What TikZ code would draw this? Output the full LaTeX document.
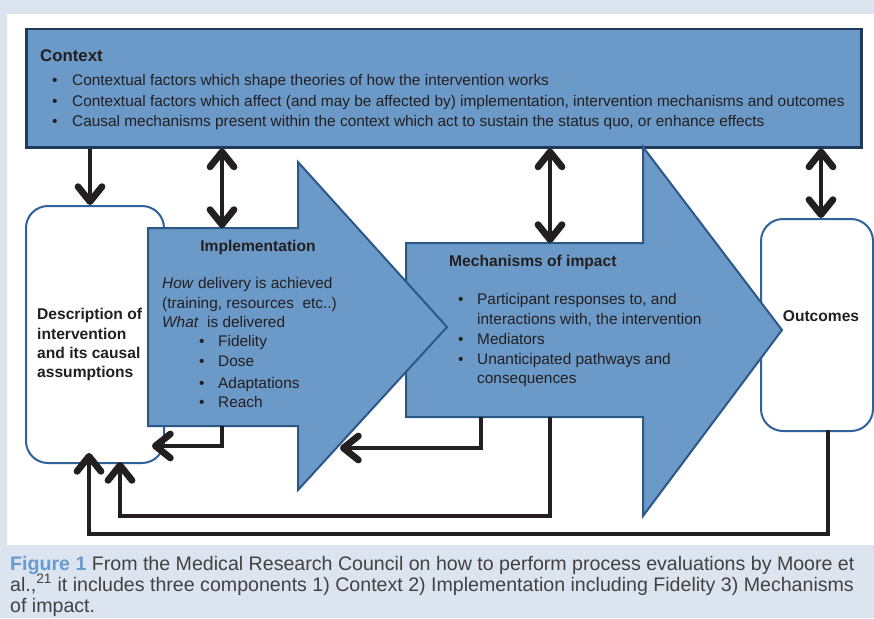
\documentclass[tikz,border=0pt]{standalone}
\usepackage{fontspec}
\setmainfont{Liberation Sans}
\usetikzlibrary{arrows.meta,positioning,calc}
\definecolor{bgc}{HTML}{DCE4EF}
\definecolor{fillc}{HTML}{6C9AC8}
\definecolor{ctxline}{HTML}{1F3A5C}
\definecolor{arrline}{HTML}{2C5887}
\definecolor{boxline}{HTML}{2F619A}
\definecolor{capblue}{HTML}{6A9BD0}
\definecolor{ink}{HTML}{231F20}
\tikzset{ctx/.style={draw=ctxline,fill=fillc,line width=2.5pt,inner sep=0pt},
 big/.style={draw=arrline,fill=fillc,line width=2pt},
 rbox/.style={draw=boxline,fill=white,line width=2pt,rounded corners=22pt,inner sep=0pt},
 tip/.tip={Straight Barb[length=15pt,width=24pt,round,line width=0pt 1.5]},
 flow/.style={-tip,line width=4.5pt,draw=ink},
 both/.style={flow,tip-tip},
 hd/.style={font=\fontsize{15.6}{18}\selectfont\bfseries,text=ink,inner sep=0pt},
 bl/.style={font=\fontsize{15.4}{18}\selectfont,text=ink,inner sep=0pt},
 captxt/.style={font=\fontsize{19.6}{21}\selectfont,text=ink!85,inner sep=0pt,anchor=base west}}

\begin{document}
\begin{tikzpicture}[x=1pt,y=-1pt]
\fill[bgc](0,0)rectangle(874,618);
\fill[white](7,14)rectangle(874,545);
\useasboundingbox(0,0)rectangle(874,618);
% boxes
\node[ctx,minimum width=835pt,minimum height=118pt,anchor=north west](ctx)at(25,28){};
\node[rbox,minimum width=138pt,minimum height=257pt,anchor=north west](desc)at(25,205){};
\node[rbox,minimum width=112pt,minimum height=212pt,anchor=north west](out)at(760,218){};
\draw[big](406,243)--(643,243)--(643,147)--(782,330)--(643,516)--(643,417)--(406,417)--cycle;
\draw[big](148,228)--(298,228)--(298,162)--(447,327)--(298,490)--(298,426)--(148,426)--cycle;
% texts
\node[hd,font=\fontsize{16.8}{18}\selectfont\bfseries,anchor=base west](cT)at(40,61){Context};
\foreach \y/\t in {85/{Contextual factors which shape theories of how the intervention works},
 106/{Contextual factors which affect (and may be affected by) implementation, intervention mechanisms and outcomes},
 126/{Causal mechanisms present within the context which act to sustain the status quo, or enhance effects}}
 {\node[bl,anchor=base west]at(52,\y){\textbullet};\node[bl,anchor=base west]at(72,\y){\t};}
\foreach \y/\t in {319/Description of,339/intervention,358/and its causal,377/assumptions}
 {\node[hd,anchor=base west]at(37,\y){\t};}
\node[hd,anchor=base](iT)at(258,251){Implementation};
\node[bl,anchor=base west]at(162,288){\textit{How} delivery is achieved};
\node[bl,anchor=base west]at(162,308){(training, resources\ \ etc..)};
\node[bl,anchor=base west]at(162,327){\textit{What}\ \ is delivered};
\foreach \y/\t in {346/Fidelity,366/Dose,388/Adaptations,407/Reach}
 {\node[bl,anchor=base west]at(199,\y){\textbullet};\node[bl,anchor=base west]at(218,\y){\t};}
\node[hd,anchor=base west](mT)at(449,266){Mechanisms of impact};
\foreach \y in {304,344,364}
 {\node[bl,anchor=base west]at(458,\y){\textbullet};}
\foreach \y/\t in {304/{Participant responses to, and},324/{interactions with, the intervention},344/Mediators,364/Unanticipated pathways and,383/consequences}
 {\node[bl,anchor=base west]at(477,\y){\t};}
\node[hd](oT)at(821,316){Outcomes};
% connectors
\coordinate(itop)at(222,228);\coordinate(mtop)at(550,243);
\draw[flow](ctx.south -| 90,0)--(90,205);
\draw[both](ctx.south -| itop)--(itop);
\draw[both](ctx.south -| mtop)--(mtop);
\draw[both](ctx.south -| 821,0)--(821,218);
\coordinate(i1)at(222,426);\coordinate(d1)at(152,446);
\draw[flow](i1)|-(d1);
\coordinate(m1)at(481,417);\coordinate(i2)at(340,448);
\draw[flow](m1)|-(i2);
\coordinate(m2)at(550,417);\coordinate(d2)at(120,462);
\draw[flow](m2)--(550,516)-|(d2);
\coordinate(o1)at(828,430);\coordinate(d3)at(89,453);
\draw[flow](o1)--(828,534)-|(d3);
% caption
\node[captxt](fig)at(10,570){\textcolor{capblue}{\bfseries Figure 1} From the Medical Research Council on how to perform process evaluations by Moore et};
\node[captxt]at(10,591){al.,\textsuperscript{21} it includes three components 1) Context 2) Implementation including Fidelity 3) Mechanisms};
\node[captxt]at(10,612){of impact.};
\end{tikzpicture}
\end{document}
